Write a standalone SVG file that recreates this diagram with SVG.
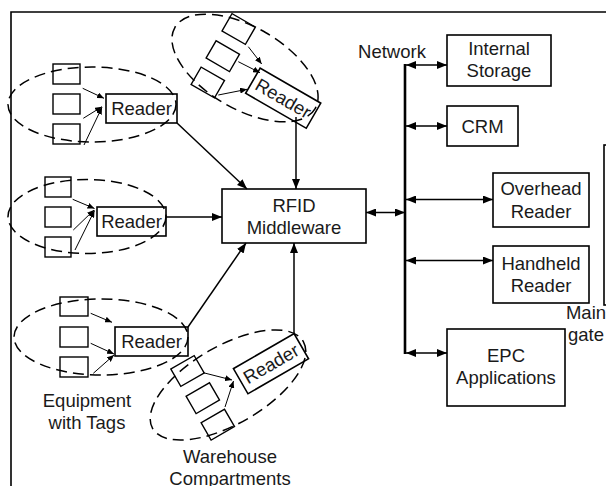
<svg xmlns="http://www.w3.org/2000/svg" width="606" height="486" viewBox="0 0 606 486">
<defs>
<style>
.box{fill:#fff;stroke:#000;stroke-width:1.6}
.tag{fill:#fff;stroke:#000;stroke-width:1.4}
.ell{fill:none;stroke:#000;stroke-width:1.5;stroke-dasharray:11 6}
.t{font-family:"Liberation Sans",Arial,sans-serif;font-size:18.5px;fill:#1a1a1a;text-anchor:middle}
.c{fill:none;stroke:#000;stroke-width:1.5}
.s{fill:none;stroke:#000;stroke-width:1}
.bus{fill:none;stroke:#000;stroke-width:2.6}
</style>
<marker id="a" markerUnits="userSpaceOnUse" markerWidth="11" markerHeight="8" refX="10" refY="4" orient="auto-start-reverse"><path d="M0,0 L10,4 L0,8 z" fill="#000"/></marker>
<marker id="sa" markerUnits="userSpaceOnUse" markerWidth="8" markerHeight="6" refX="7" refY="3" orient="auto"><path d="M0,0 L7,3 L0,6 z" fill="#000"/></marker>
</defs>
<rect width="606" height="486" fill="#fff"/>
<path d="M11,486 V12 H606" fill="none" stroke="#000" stroke-width="1.6"/>

<g id="group-reader1">
<rect class="tag" x="53" y="64" width="27" height="20"/>
<rect class="tag" x="53" y="94" width="27" height="20"/>
<rect class="tag" x="53" y="124" width="27" height="20"/>
<rect class="box" x="106" y="94" width="71" height="29"/>
<text class="t" x="141.5" y="115">Reader</text>
<ellipse class="ell" cx="92" cy="104.5" rx="84" ry="37.5"/>
</g>

<g id="group-reader2">
<rect class="tag" x="45" y="177" width="26" height="20"/>
<rect class="tag" x="45" y="207" width="26" height="20"/>
<rect class="tag" x="45" y="237" width="26" height="20"/>
<rect class="box" x="97" y="207" width="69" height="29"/>
<text class="t" x="131.5" y="228">Reader</text>
<ellipse class="ell" cx="87" cy="216.5" rx="79" ry="37"/>
</g>

<g id="group-reader3">
<rect class="tag" x="60" y="297" width="28" height="19"/>
<rect class="tag" x="60" y="327" width="28" height="20"/>
<rect class="tag" x="60" y="357" width="28" height="20"/>
<rect class="box" x="115" y="327" width="73" height="29"/>
<text class="t" x="151.5" y="348">Reader</text>
<ellipse class="ell" cx="101" cy="337" rx="87" ry="38"/>
</g>

<g id="group-reader-top">
<rect class="tag" x="-13.5" y="-10" width="27" height="20" transform="translate(238.7,29) rotate(30)"/>
<rect class="tag" x="-13.5" y="-10" width="27" height="20" transform="translate(222.8,56.2) rotate(30)"/>
<rect class="tag" x="-13.5" y="-10" width="27" height="20" transform="translate(207.8,82.5) rotate(30)"/>
<g transform="translate(283.2,98.2) rotate(30)">
<rect class="box" x="-35" y="-14.5" width="70" height="29"/>
<text class="t" x="0" y="6.5">Reader</text>
</g>
<ellipse class="ell" cx="0" cy="0" rx="81" ry="41" transform="translate(245,68) rotate(30)"/>
</g>

<g id="group-reader-bottom">
<rect class="tag" x="-13.5" y="-10" width="27" height="20" transform="translate(187.5,371) rotate(-30)"/>
<rect class="tag" x="-13.5" y="-10" width="27" height="20" transform="translate(202.8,398.2) rotate(-30)"/>
<rect class="tag" x="-13.5" y="-10" width="27" height="20" transform="translate(217.8,424.7) rotate(-30)"/>
<g transform="translate(271,363.7) rotate(-30)">
<rect class="box" x="-35" y="-14.5" width="70" height="29"/>
<text class="t" x="0" y="6.5">Reader</text>
</g>
<ellipse class="ell" cx="0" cy="0" rx="87" ry="39" transform="translate(228,385) rotate(-30)"/>
</g>

<g id="middleware">
<rect class="box" x="222" y="189" width="144" height="54"/>
<text class="t" x="294" y="211.5">RFID</text>
<text class="t" x="294" y="233.5">Middleware</text>
</g>

<g id="internal-storage">
<rect class="box" x="447" y="35" width="104" height="51"/>
<text class="t" x="499" y="55">Internal</text>
<text class="t" x="499" y="77">Storage</text>
</g>
<g id="crm">
<rect class="box" x="447" y="106" width="71" height="40"/>
<text class="t" x="482.5" y="132.5">CRM</text>
</g>
<g id="overhead-reader">
<rect class="box" x="493" y="173" width="96" height="54"/>
<text class="t" x="541" y="195">Overhead</text>
<text class="t" x="541" y="217.5">Reader</text>
</g>
<g id="handheld-reader">
<rect class="box" x="493" y="246" width="96" height="57"/>
<text class="t" x="541" y="269.5">Handheld</text>
<text class="t" x="541" y="291.5">Reader</text>
</g>
<g id="epc-applications">
<rect class="box" x="447" y="329" width="118" height="77"/>
<text class="t" x="506" y="361.5">EPC</text>
<text class="t" x="506" y="384">Applications</text>
</g>
<g id="main-gate">
<rect class="box" x="604" y="145" width="20" height="160"/>
<text class="t" x="586" y="319">Main</text>
<text class="t" x="586" y="341">gate</text>
</g>

<g id="labels">
<text class="t" x="392" y="58">Network</text>
<text class="t" x="87" y="406.5">Equipment</text>
<text class="t" x="87" y="429">with Tags</text>
<text class="t" x="230" y="462.5">Warehouse</text>
<text class="t" x="230" y="484.5">Compartments</text>
</g>

<g id="connectors">
<path class="s" marker-end="url(#sa)" d="M82.7,88.3 L104,98.3"/>
<path class="s" marker-end="url(#sa)" d="M83.3,118.3 L102,106.7"/>
<path class="s" marker-end="url(#sa)" d="M84,145 L102,107.3"/>
<path class="s" marker-end="url(#sa)" d="M72.7,199.3 L94.5,208.5"/>
<path class="s" marker-end="url(#sa)" d="M73.3,230 L94,210"/>
<path class="s" marker-end="url(#sa)" d="M75,250 L94.5,210.5"/>
<path class="s" marker-end="url(#sa)" d="M90.7,313.3 L112,322.3"/>
<path class="s" marker-end="url(#sa)" d="M90.7,343.3 L114,354"/>
<path class="s" marker-end="url(#sa)" d="M93.3,373.3 L114,355"/>
<path class="s" marker-end="url(#sa)" d="M248.3,46.7 L261.7,64"/>
<path class="s" marker-end="url(#sa)" d="M238.3,61.7 L260,72.7"/>
<path class="s" marker-end="url(#sa)" d="M218.3,95 L247,89.3"/>
<path class="s" marker-end="url(#sa)" d="M203.3,372.7 L232,380"/>
<path class="s" marker-end="url(#sa)" d="M225,407 L233.5,381"/>

<path class="c" marker-end="url(#a)" d="M177,123 L247,189"/>
<path class="c" marker-end="url(#a)" d="M296,117 L296,189"/>
<path class="c" marker-end="url(#a)" d="M166,217 L222,217"/>
<path class="c" marker-end="url(#a)" d="M188,327 L246,243"/>
<path class="c" marker-end="url(#a)" d="M294,333 L294,243"/>
<path class="c" marker-start="url(#a)" marker-end="url(#a)" d="M366,212.5 L405,212.5"/>

<path class="bus" d="M405,64 V354"/>
<path class="c" marker-start="url(#a)" marker-end="url(#a)" d="M406,65 L447,65"/>
<path class="c" marker-start="url(#a)" marker-end="url(#a)" d="M406,126 L447,126"/>
<path class="c" marker-start="url(#a)" marker-end="url(#a)" d="M406,199.5 L493,199.5"/>
<path class="c" marker-start="url(#a)" marker-end="url(#a)" d="M406,260.5 L493,260.5"/>
<path class="c" marker-start="url(#a)" marker-end="url(#a)" d="M406,353 L447,353"/>
</g>
</svg>
